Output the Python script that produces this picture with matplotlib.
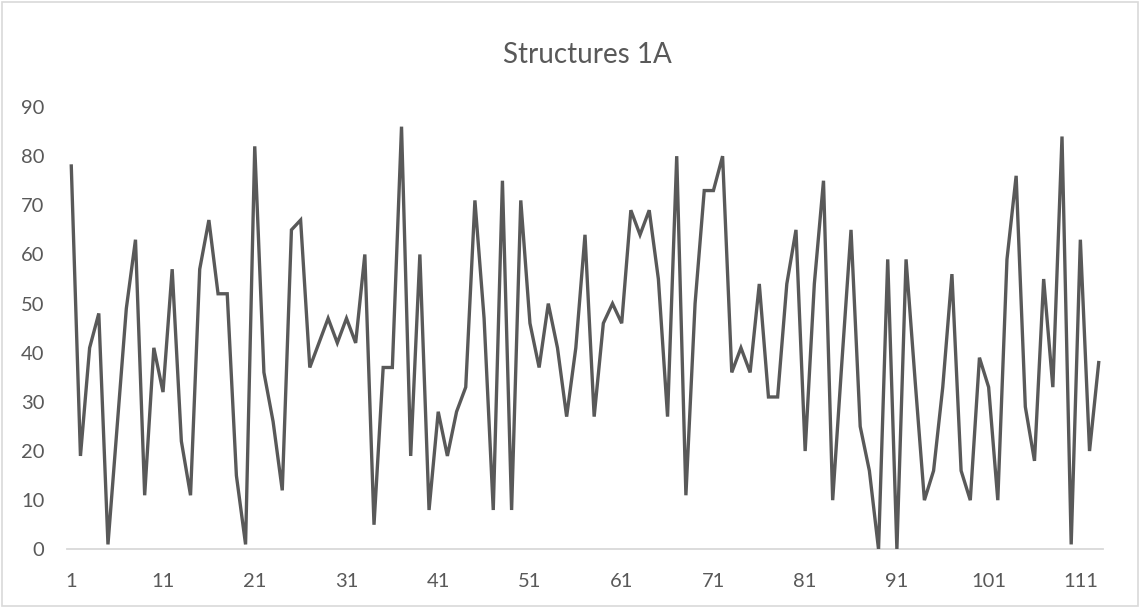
import matplotlib
matplotlib.use("Agg")
from matplotlib import pyplot as plt
from matplotlib.patches import Rectangle

# series values, one per structure
values = [78, 19, 41, 48, 1, 25, 49, 63, 11, 41,
          32, 57, 22, 11, 57, 67, 52, 52, 15, 1,
          82, 36, 26, 12, 65, 67, 37, 42, 47, 42,
          47, 42, 60, 5, 37, 37, 86, 19, 60, 8,
          28, 19, 28, 33, 71, 47, 8, 75, 8, 71,
          46, 37, 50, 41, 27, 41, 64, 27, 46, 50,
          46, 69, 64, 69, 55, 27, 80, 11, 50, 73,
          73, 80, 36, 41, 36, 54, 31, 31, 54, 65,
          20, 54, 75, 10, 38, 65, 25, 16, 0, 59,
          0, 59, 34, 10, 16, 33, 56, 16, 10, 39,
          33, 10, 59, 76, 29, 18, 55, 33, 84, 1,
          63, 20, 38]
idx = list(range(1, len(values) + 1))
xticks = list(range(1, len(values) + 1, 10))
yticks = list(range(0, 100, 10))

plt.rcParams['font.family'] = ['Lato', 'DejaVu Sans']
grey = '#595959'

fig = plt.figure(figsize=(11.4, 6.08), dpi=100)
ax = fig.add_axes([0.0585, 0.0965, 0.9093, 0.7275])

ax.plot(idx, values, color=grey, linewidth=2.4, solid_joinstyle='miter')
ax.set_xlim(0.5, len(values) + 0.5)
ax.set_ylim(0, 90)
ax.set_xticks(xticks)
ax.set_yticks(yticks)
ax.tick_params(length=0, labelsize=14.5, labelcolor=grey)
ax.tick_params(axis='x', pad=17)
ax.tick_params(axis='y', pad=16)

for s in ['top', 'right', 'left']:
    ax.spines[s].set_visible(False)
ax.spines['bottom'].set_color('#d9d9d9')
ax.spines['bottom'].set_linewidth(1.3)
ax.spines['bottom'].set_zorder(0)

fig.text(0.515, 0.91, "Structures 1A", ha='center', va='center',
         fontsize=20, color=grey)

# light frame round the whole chart
fig.patches.append(Rectangle((0.002, 0.003), 0.996, 0.994, transform=fig.transFigure,
                             fill=False, edgecolor='#d9d9d9', linewidth=1.2))

plt.savefig("out.png", dpi=100)
